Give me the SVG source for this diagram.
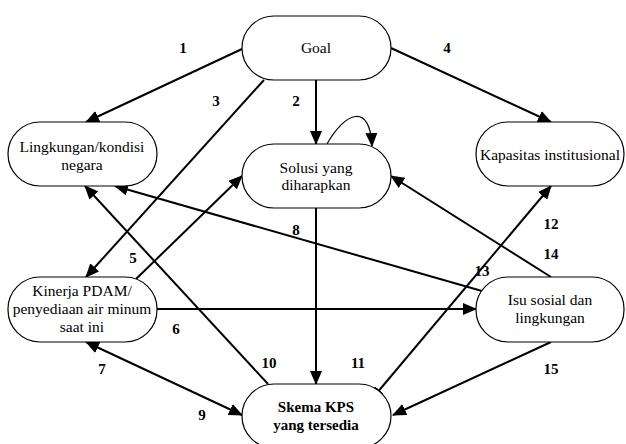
<svg xmlns="http://www.w3.org/2000/svg" width="626" height="444" viewBox="0 0 626 444">
<style>
.node{fill:#fff;stroke:#000;stroke-width:1.2}
text{font-family:'Liberation Serif','Times New Roman','DejaVu Serif',serif;text-anchor:middle;fill:#000}
.t{font-size:15.5px}
.b{font-weight:bold;font-size:15px}
.n{font-size:15px;font-weight:bold}
.c{fill:none;stroke:#000;stroke-width:2}
</style>
<defs>
<marker id="ah" markerUnits="userSpaceOnUse" markerWidth="14" markerHeight="12" viewBox="0 0 14 12" refX="13" refY="6" orient="auto-start-reverse">
<path d="M0,0 L14,6 L0,12 Z" fill="#000"/>
</marker>
</defs>
<rect width="626" height="444" fill="#fff"/>
<g id="connectors">
<path class="c" d="M242,49 L86,122" marker-end="url(#ah)"/>
<path class="c" d="M316,80 L316,144" marker-end="url(#ah)"/>
<path class="c" d="M264,80 L86,277" marker-end="url(#ah)"/>
<path class="c" d="M391,48 L551,122" marker-end="url(#ah)"/>
<path class="c" style="stroke-width:1.2" d="M327,144 C345,112 370,102 372,146" marker-end="url(#ah)"/>
<path class="c" d="M136,279 L242,176" marker-end="url(#ah)"/>
<path class="c" d="M157,309 L476,309" marker-end="url(#ah)"/>
<path class="c" d="M86,342 L242,415" marker-start="url(#ah)" marker-end="url(#ah)"/>
<path class="c" d="M482,291 L115,186" marker-end="url(#ah)"/>
<path class="c" d="M268,384 L85,186" marker-end="url(#ah)"/>
<path class="c" d="M316,208 L316,384" marker-end="url(#ah)"/>
<path class="c" d="M551,186 L371,400" marker-start="url(#ah)" marker-end="url(#ah)"/>
<path class="c" d="M551,277 L391,176" marker-end="url(#ah)"/>
<path class="c" d="M551,342 L393,415" marker-end="url(#ah)"/>
</g>
<g id="labels">
<text class="n" x="183" y="53">1</text>
<text class="n" x="296" y="106">2</text>
<text class="n" x="216" y="106">3</text>
<text class="n" x="447" y="53">4</text>
<text class="n" x="133" y="263">5</text>
<text class="n" x="176" y="334">6</text>
<text class="n" x="102" y="374">7</text>
<text class="n" x="296" y="235">8</text>
<text class="n" x="202" y="420">9</text>
<text class="n" x="269" y="368">10</text>
<text class="n" x="358" y="368">11</text>
<text class="n" x="551" y="229">12</text>
<text class="n" x="482" y="276">13</text>
<text class="n" x="551" y="259">14</text>
<text class="n" x="551" y="374">15</text>
</g>
<g id="goal">
<rect class="node" x="242" y="16" width="149" height="64" rx="32"/>
<text class="t" x="316" y="53">Goal</text>
</g>
<g id="lingkungan">
<rect class="node" x="8" y="122" width="149" height="64" rx="32"/>
<text class="t" x="82" y="152">Lingkungan/kondisi</text>
<text class="t" x="82" y="170">negara</text>
</g>
<g id="solusi">
<rect class="node" x="242" y="144" width="149" height="64" rx="32"/>
<text class="t" x="316" y="173">Solusi yang</text>
<text class="t" x="316" y="190">diharapkan</text>
</g>
<g id="kapasitas">
<rect class="node" x="476" y="122" width="148" height="64" rx="32"/>
<text class="t" x="550" y="160">Kapasitas institusional</text>
</g>
<g id="kinerja">
<rect class="node" x="8" y="277" width="149" height="65" rx="32"/>
<text class="t" x="82" y="296">Kinerja PDAM/</text>
<text class="t" x="82" y="314">penyediaan air minum</text>
<text class="t" x="82" y="332">saat ini</text>
</g>
<g id="isu">
<rect class="node" x="476" y="277" width="148" height="65" rx="32"/>
<text class="t" x="550" y="305">Isu sosial dan</text>
<text class="t" x="550" y="323">lingkungan</text>
</g>
<g id="skema">
<rect class="node" x="242" y="384" width="149" height="64" rx="32"/>
<text class="t b" x="316" y="412">Skema KPS</text>
<text class="t b" x="316" y="430">yang tersedia</text>
</g>
</svg>
